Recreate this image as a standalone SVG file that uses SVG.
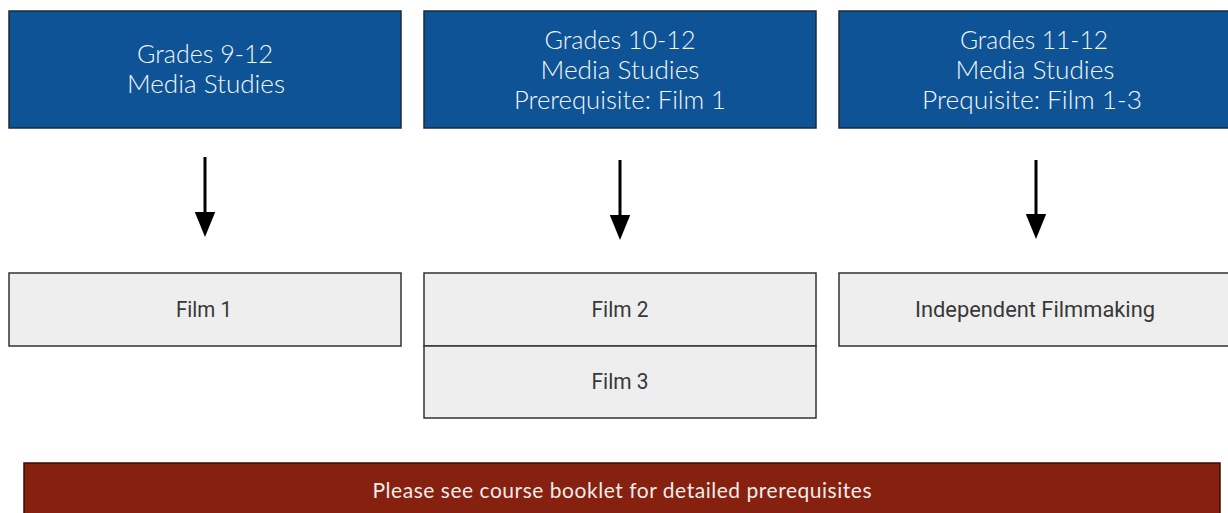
<svg xmlns="http://www.w3.org/2000/svg" width="1228" height="513" viewBox="0 0 1228 513">
  <style>
    .hdr { fill: #0e5395; stroke: #1f2a36; stroke-width: 1.5; }
    .crs { fill: #eeeeee; stroke: #333333; stroke-width: 1.5; }
    .note { fill: #86200f; stroke: #3a0d06; stroke-width: 1.5; }
    .ht { font-family: Lato, "Open Sans", sans-serif; font-size: 25px; font-weight: 300; fill: #f4f6f9; text-anchor: middle; }
    .ct { font-family: Roboto, "Liberation Sans", sans-serif; font-size: 21.5px; font-weight: 400; fill: #383838; text-anchor: middle; }
    .nt { font-family: Lato, "Liberation Sans", sans-serif; font-size: 21px; font-weight: 400; fill: #f2ecea; text-anchor: middle; }
    .conn { stroke: #000000; stroke-width: 3; fill: none; marker-end: url(#head); }
  </style>
  <defs>
    <marker id="head" markerWidth="8.5" markerHeight="7" refX="0" refY="3.4" orient="auto" markerUnits="strokeWidth" overflow="visible">
      <path d="M0,0 L8.3,3.4 L0,6.8 Z" fill="#000000"/>
    </marker>
  </defs>
  <rect width="1228" height="513" fill="#ffffff"/>

  <g id="hdr-9-12">
    <rect class="hdr" x="9" y="11" width="392" height="117"/>
    <text class="ht" x="205" y="63" textLength="136" lengthAdjust="spacingAndGlyphs">Grades 9-12</text>
    <text class="ht" x="206" y="93" textLength="158" lengthAdjust="spacingAndGlyphs">Media Studies</text>
  </g>
  <g id="hdr-10-12">
    <rect class="hdr" x="424" y="11" width="392" height="117"/>
    <text class="ht" x="620" y="49" textLength="151" lengthAdjust="spacingAndGlyphs">Grades 10-12</text>
    <text class="ht" x="620" y="79" textLength="159" lengthAdjust="spacingAndGlyphs">Media Studies</text>
    <text class="ht" x="620" y="109" textLength="212" lengthAdjust="spacingAndGlyphs">Prerequisite: Film 1</text>
  </g>
  <g id="hdr-11-12">
    <rect class="hdr" x="839" y="11" width="395" height="117"/>
    <text class="ht" x="1034" y="49" textLength="148" lengthAdjust="spacingAndGlyphs">Grades 11-12</text>
    <text class="ht" x="1035" y="79" textLength="159" lengthAdjust="spacingAndGlyphs">Media Studies</text>
    <text class="ht" x="1032" y="109" textLength="220" lengthAdjust="spacingAndGlyphs">Prequisite: Film 1-3</text>
  </g>

  <g id="connectors">
    <line class="conn" x1="205" y1="157" x2="205" y2="212"/>
    <line class="conn" x1="620" y1="160" x2="620" y2="215"/>
    <line class="conn" x1="1036" y1="160" x2="1036" y2="214"/>
  </g>

  <g id="film-1">
    <rect class="crs" x="9" y="273" width="392" height="73"/>
    <text class="ct" x="204" y="316.5" textLength="56" lengthAdjust="spacingAndGlyphs">Film 1</text>
  </g>
  <g id="film-2">
    <rect class="crs" x="424" y="273" width="392" height="73"/>
    <text class="ct" x="620" y="316.5" textLength="57" lengthAdjust="spacingAndGlyphs">Film 2</text>
  </g>
  <g id="film-3">
    <rect class="crs" x="424" y="346" width="392" height="72"/>
    <text class="ct" x="620" y="388.5" textLength="57" lengthAdjust="spacingAndGlyphs">Film 3</text>
  </g>
  <g id="independent-filmmaking">
    <rect class="crs" x="839" y="273" width="395" height="73"/>
    <text class="ct" x="1035" y="316.5" textLength="240" lengthAdjust="spacingAndGlyphs">Independent Filmmaking</text>
  </g>

  <g id="note">
    <rect class="note" x="24" y="463" width="1196" height="55"/>
    <text class="nt" x="622" y="498" textLength="499" lengthAdjust="spacing">Please see course booklet for detailed prerequisites</text>
  </g>
</svg>
